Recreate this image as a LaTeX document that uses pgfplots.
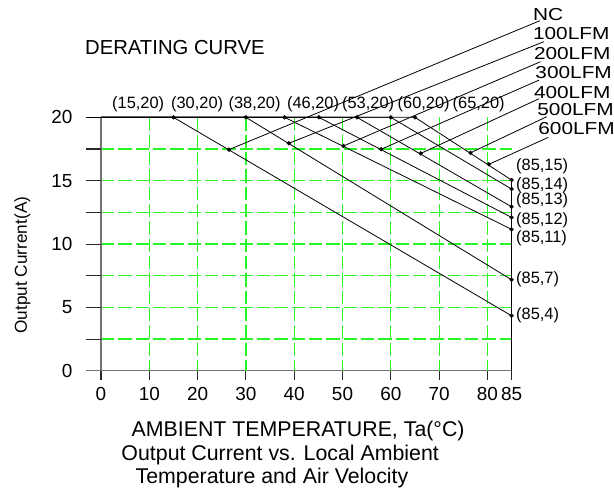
\documentclass[border=0pt]{standalone}
\usepackage{pgfplots}
\pgfplotsset{compat=1.18}
\usepackage{fontspec}
\setmainfont{Liberation Sans}
\newfontfamily\widefont{Liberation Sans}[FakeStretch=1.2]
\definecolor{gridgreen}{RGB}{40,245,40}
\definecolor{axgray}{RGB}{115,115,115}
\definecolor{tickdark}{RGB}{40,40,40}

\begin{document}
\begin{tikzpicture}
\begin{axis}[
  x=3.6225pt, y=9.5025pt,
  xmin=0, xmax=85, ymin=0, ymax=20,
  enlargelimits=false,
  clip=false,
  axis x line*=bottom, axis y line*=left,
  axis line style={axgray, line width=0.9pt, -},
  xtick={0,10,20,30,40,50,60,70,80,85},
  ytick={0,5,10,15,20},
  tick align=outside,
  major tick length=6.7pt,
  xtick style={tickdark, line width=0.8pt},
  ytick style={draw=none},
  /pgf/number format/assume math mode=true,
  ticklabel style={font=\fontsize{14.2}{16}\selectfont, inner sep=0pt},
  xticklabel style={anchor=north, yshift=-5.5pt},
  yticklabel style={anchor=east, xshift=-14.5pt},
]
% grid
\draw[gridgreen, line width=0.9pt, dash pattern=on 10pt off 3pt]
  (axis cs:10,20) -- (axis cs:10,0)
  (axis cs:20,20) -- (axis cs:20,0)
  (axis cs:30,20) -- (axis cs:30,0)
  (axis cs:40,20) -- (axis cs:40,0)
  (axis cs:50,20) -- (axis cs:50,0)
  (axis cs:60,20) -- (axis cs:60,0)
  (axis cs:70,20) -- (axis cs:70,0)
  (axis cs:80,20) -- (axis cs:80,0)
  (axis cs:0,2.5) -- (axis cs:85,2.5)
  (axis cs:0,5) -- (axis cs:85,5)
  (axis cs:0,7.5) -- (axis cs:85,7.5)
  (axis cs:0,10) -- (axis cs:85,10)
  (axis cs:0,12.5) -- (axis cs:85,12.5)
  (axis cs:0,15) -- (axis cs:85,15)
  (axis cs:0,17.5) -- (axis cs:85,17.5);
% y axis and ticks
\draw[axgray, line width=0.9pt]
  (axis cs:-3.1,0) -- (axis cs:0,0)
  (axis cs:0,0) -- (axis cs:0,20);
\draw[tickdark, line width=0.8pt]
  (axis cs:-3.1,2.5) -- (axis cs:0,2.5)
  (axis cs:-3.1,5) -- (axis cs:0,5)
  (axis cs:-3.1,7.5) -- (axis cs:0,7.5)
  (axis cs:-3.1,10) -- (axis cs:0,10)
  (axis cs:-3.1,12.5) -- (axis cs:0,12.5)
  (axis cs:-3.1,15) -- (axis cs:0,15)
  (axis cs:-3.1,17.5) -- (axis cs:0,17.5);
\draw[black, line width=0.7pt] (axis cs:-3.1,20) -- (axis cs:0,20);

% derating curves
\addplot[black, line width=0.6pt] coordinates {(0,20) (15,20) (85,4.34)};
\addplot[black, line width=0.6pt] coordinates {(0,20) (30,20) (85,7.18)};
\addplot[black, line width=0.6pt] coordinates {(0,20) (38,20) (85,11.16)};
\addplot[black, line width=0.6pt] coordinates {(0,20) (45.1,20) (85,12.1)};
\addplot[black, line width=0.6pt] coordinates {(0,20) (53,20) (85,12.94)};
\addplot[black, line width=0.6pt] coordinates {(0,20) (60,20) (85,14.34)};
\addplot[black, line width=0.6pt] coordinates {(0,20) (65,20) (85,15.05)};
% right edge
\addplot[black, line width=0.9pt] coordinates {(85,0) (85,15.05)};

% leader lines
\addplot[black, line width=0.6pt] coordinates {(26.5,17.45) (90.9,27.63)};
\addplot[black, line width=0.6pt] coordinates {(38.9,17.95) (91.7,25.97)};
\addplot[black, line width=0.6pt] coordinates {(50.2,17.74) (91.0,24.39)};
\addplot[black, line width=0.6pt] coordinates {(58.0,17.48) (90.7,22.94)};
\addplot[black, line width=0.6pt] coordinates {(66.2,17.15) (90.7,21.47)};
\addplot[black, line width=0.6pt] coordinates {(76.5,17.2) (92.3,20.05)};
\addplot[black, line width=0.6pt] coordinates {(80.3,16.29) (92.6,18.42)};

% dots
\addplot[only marks, mark=*, mark size=1.4pt, black] coordinates {
  (15,20) (30,20) (38,20) (45.1,20) (53,20) (60,20) (65,20)
  (85,15.05) (85,14.34) (85,12.94) (85,12.1) (85,11.16) (85,7.18) (85,4.34)
  (26.5,17.45) (38.9,17.95) (50.2,17.74) (58.0,17.48) (66.2,17.15) (76.5,17.2) (80.3,16.29)};

% knee labels
\begin{scope}[every node/.style={font=\fontsize{12.3}{14}\selectfont, inner sep=0pt}]
\node at (axis cs:7.7,21.05) {(15,20)};
\node at (axis cs:19.9,21.05) {(30,20)};
\node at (axis cs:31.8,21.05) {(38,20)};
\node at (axis cs:43.9,21.05) {(46,20)};
\node at (axis cs:55.3,21.05) {(53,20)};
\node at (axis cs:66.8,21.05) {(60,20)};
\node at (axis cs:78.2,21.05) {(65,20)};
\node[anchor=west] at (axis cs:85.9,16.1) {(85,15)};
\node[anchor=west] at (axis cs:85.9,14.65) {(85,14)};
\node[anchor=west] at (axis cs:85.9,13.42) {(85,13)};
\node[anchor=west] at (axis cs:85.9,11.9) {(85,12)};
\node[anchor=west] at (axis cs:85.9,10.45) {(85,11)};
\node[anchor=west] at (axis cs:85.9,7.21) {(85,7)};
\node[anchor=west] at (axis cs:85.9,4.4) {(85,4)};
\end{scope}
\begin{scope}[every node/.style={font=\widefont\fontsize{13}{15}\selectfont, inner sep=0pt, anchor=west}]
\node at (axis cs:89.4,28.15) {NC};
\node at (axis cs:89.4,26.63) {100LFM};
\node at (axis cs:89.6,25.05) {200LFM};
\node at (axis cs:89.9,23.52) {300LFM};
\node at (axis cs:89.6,21.94) {400LFM};
\node at (axis cs:90.3,20.58) {500LFM};
\node at (axis cs:90.5,19.13) {600LFM};
\end{scope}
\node[font=\fontsize{15.2}{18}\selectfont, inner sep=0pt] at (axis cs:15.3,25.5) {DERATING CURVE};
\node[font=\fontsize{16}{19}\selectfont, inner sep=0pt] at (axis cs:40.8,-4.75) {AMBIENT TEMPERATURE, Ta(°C)};
\node[font=\fontsize{16}{19}\selectfont, inner sep=0pt] at (axis cs:37.1,-6.65) {Output Current vs. Local Ambient};
\node[font=\fontsize{16}{19}\selectfont, inner sep=0pt] at (axis cs:35.4,-8.47) {Temperature and Air Velocity};
\node[font=\fontsize{12.9}{15}\selectfont, inner sep=0pt, rotate=90] at (axis cs:-16.25,8.34) {Output Current(A)};

\coordinate (bl) at (axis cs:-20.91,-9.49);
\coordinate (tr) at (axis cs:106.21,29.26);
\end{axis}
\pgfresetboundingbox
\useasboundingbox (bl) rectangle (tr);
\end{tikzpicture}
\end{document}
